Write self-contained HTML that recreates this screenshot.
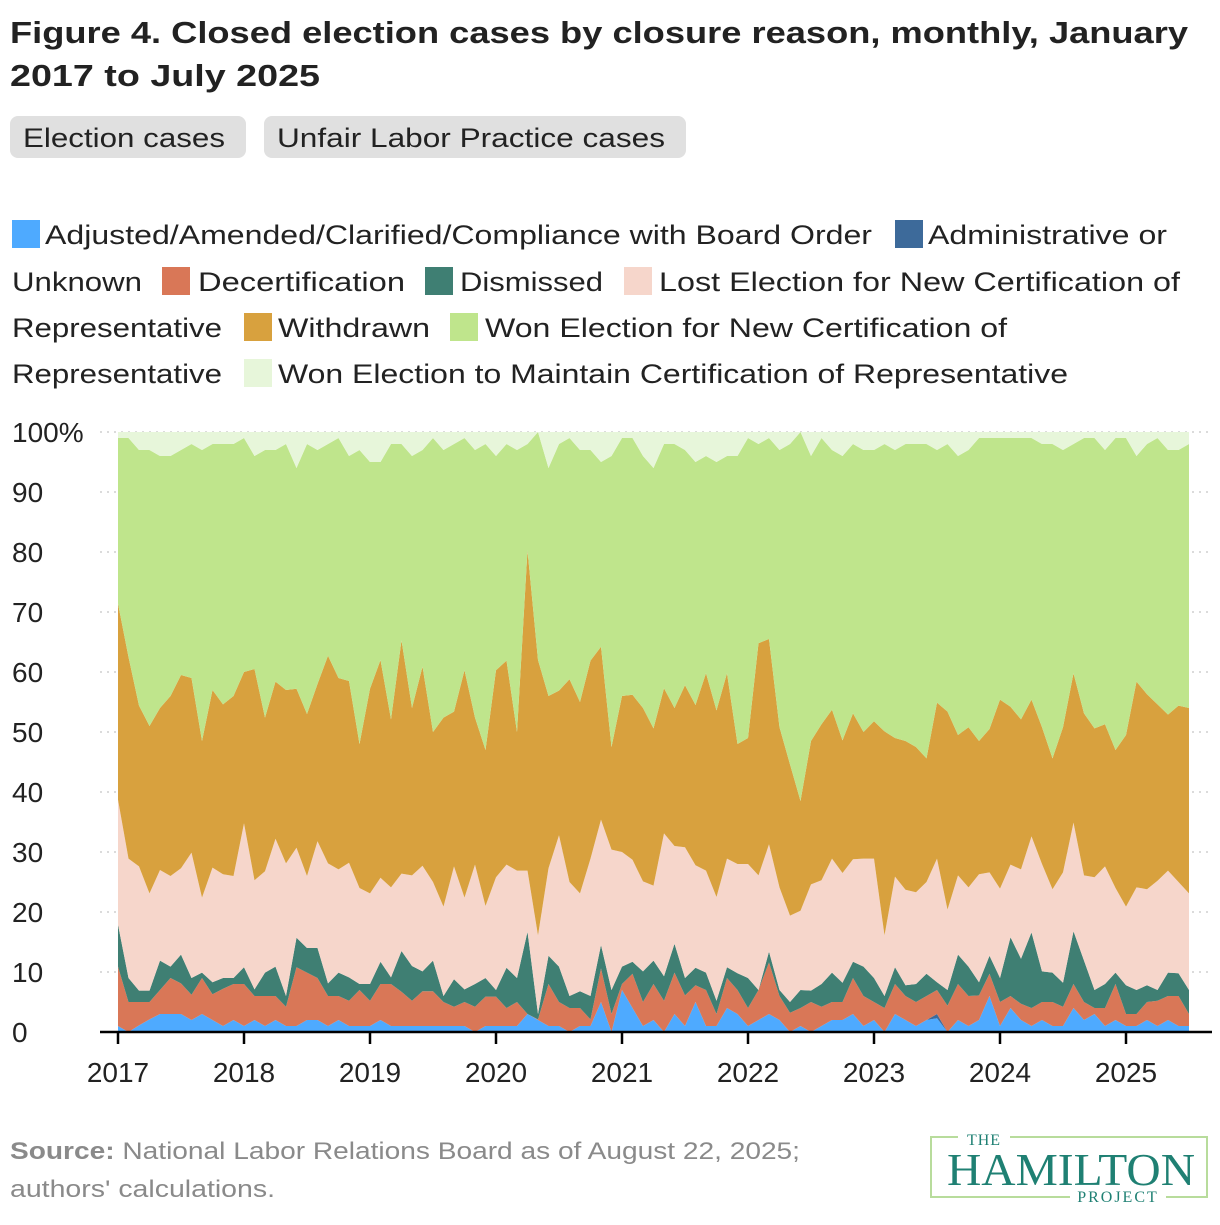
<!DOCTYPE html>
<html><head><meta charset="utf-8"><style>
html,body{margin:0;padding:0;background:#fff;}
body{width:1220px;height:1220px;overflow:hidden;font-family:"Liberation Sans",sans-serif;}
</style></head><body>
<svg id="chart" width="1220" height="1220" xmlns="http://www.w3.org/2000/svg" font-family="Liberation Sans, sans-serif">
<g font-weight="bold" font-size="31" fill="#222">
<text x="10" y="43" textLength="1178" lengthAdjust="spacingAndGlyphs">Figure 4. Closed election cases by closure reason, monthly, January</text>
<text x="10" y="86" textLength="310" lengthAdjust="spacingAndGlyphs">2017 to July 2025</text>
</g>
<g>
<rect x="10" y="116" width="236" height="42" rx="8" fill="#e0e0e0"/>
<text x="23" y="147" font-size="27" fill="#222" textLength="202" lengthAdjust="spacingAndGlyphs">Election cases</text>
</g>
<g>
<rect x="264" y="116" width="422" height="42" rx="8" fill="#e0e0e0"/>
<text x="277" y="147" font-size="27" fill="#222" textLength="388" lengthAdjust="spacingAndGlyphs">Unfair Labor Practice cases</text>
</g>
<g id="legend" font-size="27" fill="#222"></g>
<g id="grid"></g>
<g id="areas"></g>
<g id="axes"></g>
<g font-size="24" fill="#8a8a8a">
<text x="10" y="1159" textLength="790" lengthAdjust="spacingAndGlyphs"><tspan font-weight="bold">Source:</tspan> National Labor Relations Board as of August 22, 2025;</text>
<text x="10" y="1197" textLength="265" lengthAdjust="spacingAndGlyphs">authors' calculations.</text>
</g>
<g>
<rect x="931" y="1137" width="276" height="60" fill="none" stroke="#b8dc9c" stroke-width="2"/>
<rect x="958" y="1130" width="52" height="14" fill="#fff"/>
<rect x="1070" y="1188" width="96" height="16" fill="#fff"/>
<text x="984" y="1145" font-family="Liberation Serif, serif" font-size="16" fill="#1f8073" text-anchor="middle" letter-spacing="1">THE</text>
<text x="947" y="1185" font-family="Liberation Serif, serif" font-size="46" fill="#1f8073" textLength="248" lengthAdjust="spacingAndGlyphs">HAMILTON</text>
<text x="1118" y="1202" font-family="Liberation Serif, serif" font-size="16" fill="#1f8073" text-anchor="middle" letter-spacing="2">PROJECT</text>
</g>
</svg>
<script>
const years = ["2017","2018","2019","2020","2021","2022","2023","2024","2025"];
const yTicks = [0,10,20,30,40,50,60,70,80,90,100];
const adjusted = [1,0,1.1,2.1,3,3,3,2,3,2,1,2,1,2,1,2,1,1,2,2,1,2,1,1,1,2,1,1,1,1,1,1,1,1,0,1,1,1,1,3,2,1,1,0,1,1,5,0,7,4,1,2,0,3,1,5,1,1,4,3,1,2,3,2,0,1,0,1,2,2,3,1,2,0,3,2,1,2,2.3,0,2,1,2,6,1,4,2,1,2,1,1,4,2,3,1,2,1,1,2,1,2,1,1];
const administrative = [0,0,0,0,0,0,0,0,0,0,0,0,0,0,0,0,0,0,0,0,0,0,0,0,0,0,0,0,0,0,0,0,0,0,0,0,0,0,0,0,0,0,0,0,0,0,0,0,0,0,0,0,0,0,0,0,0,0,0,0,0,0,0,0,0,0,0,0,0,0,0,0,0,0,0,0,0,0,0.7,0,0,0,0,0,0,0,0,0,0,0,0,0,0,0,0,0,0,0,0,0,0,0,0];
const decertification = [9.9,5,3.9,2.9,4,6,5.1,4.2,6,4.3,6.2,6,7,4,5,4,3.2,9.8,7.9,7,5,4,4.2,6,4.2,6,7,5.7,4.2,5.8,5.8,4,3.2,4,4.2,4.9,4.9,3,4,0,0.1,7,4,4,3,1.1,5.6,3,1,5.7,4,6,5.2,6.9,5.1,2.8,6,2,5,4,3,5,8.6,4,3.2,3,5,3.2,3,3,6,5,3,4,5,4,4,4,4,4.4,6,5,4.1,3.7,4,2,2.7,3,3,4,3.2,4,3,1,3,6,2,2,3,4.2,4,5,2];
const dismissed = [7,4,1.9,1.9,4.9,1.9,4.8,2.8,0.9,2,1.8,1,2.8,1.1,3.9,4.9,1.8,4.9,4.1,5,2.1,3.9,3.9,1,2.8,3.7,1.1,6.8,5.8,3.3,5.1,1,4.6,2.1,3.8,3.1,1.1,6.7,4,13.7,0.9,4.7,5.9,2,2.8,3.9,3.9,4,2.9,2,5.1,3.9,4.1,4.8,2.9,2.9,2.9,2.2,1.8,2.8,5,0,1.8,1,1.8,3,1.9,3.8,4.9,3.2,2.7,4.9,4,2,2.8,1.8,3,3.7,1.3,2.6,4.9,4.9,2.2,3,4,9.8,7.5,12.6,5.1,4.9,4,8.8,6.9,3,4,1.9,4.8,4,2.8,1.8,3.9,3.8,4];
const lostNew = [20.8,19.9,20.7,16.2,15.1,15.1,14.4,20.9,12.5,19.1,17.3,17,24,18.2,16.9,21.3,22.1,15,12,17.8,20,17.2,19.1,16,15.1,14,15,12.9,15.1,17.6,13.1,14.9,18.8,15.3,19.9,12,18.8,17.2,17.9,10.2,13.1,14.6,21.9,19,16.3,22.9,20.9,23.4,19.1,17,15,12.5,23.8,16.3,21.8,17.1,17,17.3,18.1,18.2,19,19.1,17.9,17.1,14.4,13.2,17.7,17.3,19,18.3,17.1,18,19.9,10.1,15.1,15.9,15.3,15.3,20.6,13.4,13.2,13.2,18,13.9,14.9,12.1,14.9,16,17.9,13.9,18.4,18.1,14.2,18.8,19.6,14.1,13.1,17.1,16,18.2,17,15.2,16.1];
const withdrawn = [32.7,33.6,26.8,27.9,27,30,32.2,29.1,26.1,29.6,28.3,30,25.2,35.2,25.6,26.2,28.9,26.5,27,26.2,34.6,31.9,30.3,24,34.1,36.3,28,38.9,27.9,33.2,25,31.5,25.8,37.9,24.5,26,34.5,34,23.1,53.4,45.9,28.7,24.1,33.8,31.9,33,28.8,17.1,26,27.5,28.9,26.2,24.2,23,27,26.7,32.9,31.1,30.9,20,21,38.7,34.2,26.7,25.2,18.3,23.9,26,24.8,22.1,24.3,21.1,22.9,34,23.1,24.8,24.2,20.6,26,33,23.4,26.7,22.2,23.9,31.5,26.3,25,22.8,22.8,21.8,24.2,24.9,27,24.8,23.7,23,28.6,34.3,32.5,29.4,26,29.4,30.9];
const wonNew = [27.6,36.5,42.6,46,42,40,37.5,39,48.5,41,43.4,42,39,35.5,44.6,38.6,41,36.8,45,39,35.3,40,37.5,49,37.8,33,45.9,32.7,42,36.1,49,44.6,44.6,38.7,44.6,51,35.7,36.1,47,17.7,38,38,41.1,40.2,42,35.1,30.8,48.5,43,42.8,42,43.4,40.7,44,39.2,40.5,36.2,41.4,36.2,48,50,33.2,33.5,46.2,53.4,61.5,47.5,47.7,43.3,47.4,44.9,47,45.2,47.9,48,49.5,50.5,52.4,42.1,44.6,46.5,46.2,50.5,48.5,43.6,44.8,46.9,43.6,47.2,52.4,46.2,38.2,45.9,48.4,45.7,52,49.5,37.6,41.7,44.4,44.1,42.6,44];
const wonMaintain = [1,1,3,3,4,4,3,2,3,2,2,2,1,4,3,3,2,6,2,3,2,1,4,3,5,5,2,2,4,3,1,3,2,1,3,2,4,2,3,2,0,6,2,1,3,3,5,4,1,1,4,6,2,2,3,5,4,5,4,4,1,2,1,3,2,0,4,1,3,4,2,3,3,2,3,2,2,2,3,2,4,3,1,1,1,1,1,1,2,2,3,2,1,1,3,1,1,4,2,1,3,3,2];

const seriesList = [
 {name:"Adjusted/Amended/Clarified/Compliance with Board Order", key:"adjusted", vals:adjusted, color:"#4eaaff"},
 {name:"Administrative or Unknown", key:"administrative", vals:administrative, color:"#3d6a9a"},
 {name:"Decertification", key:"decertification", vals:decertification, color:"#d97757"},
 {name:"Dismissed", key:"dismissed", vals:dismissed, color:"#3f7f73"},
 {name:"Lost Election for New Certification of Representative", key:"lost-new", vals:lostNew, color:"#f6d6cb"},
 {name:"Withdrawn", key:"withdrawn", vals:withdrawn, color:"#d8a13e"},
 {name:"Won Election for New Certification of Representative", key:"won-new", vals:wonNew, color:"#bfe58c"},
 {name:"Won Election to Maintain Certification of Representative", key:"won-maintain", vals:wonMaintain, color:"#e7f6da"}
];

const NS="http://www.w3.org/2000/svg";
const X0=118, MONTH=10.5, Y0=1032, YPX=6;
function xScale(i){return X0+MONTH*i;}
function yScale(v){return Y0-YPX*v;}
function mk(tag,attrs,parent){const e=document.createElementNS(NS,tag);for(const k in attrs)e.setAttribute(k,attrs[k]);parent.appendChild(e);return e;}

const grid=document.getElementById('grid');
yTicks.forEach(t=>{
  const l=mk('line',{x1:100,x2:1212,y1:yScale(t),y2:yScale(t),stroke:'#cfcfcf','stroke-width':1.5,'stroke-dasharray':'2 5'},grid);
  
  
});

const areas=document.getElementById('areas');
const n=adjusted.length;
let base=new Array(n).fill(0);
seriesList.forEach(s=>{
  const top=base.map((b,i)=>b+s.vals[i]);
  let d='M'+xScale(0)+','+yScale(top[0]);
  for(let i=1;i<n;i++)d+='L'+xScale(i)+','+yScale(top[i]);
  for(let i=n-1;i>=0;i--)d+='L'+xScale(i)+','+yScale(base[i]);
  d+='Z';
  const p=mk('path',{d:d,fill:s.color},areas);
  
  
  base=top;
});

const axes=document.getElementById('axes');
mk('line',{x1:100,x2:1212,y1:Y0,y2:Y0,stroke:'#000','stroke-width':2.5},axes);
yTicks.forEach(t=>{
  const tx=mk('text',{x:12,y:yScale(t)+10,'font-size':28,fill:'#222'},axes);
  tx.textContent=t===100?'100%':String(t);
  
  
});
years.forEach((yr,k)=>{
  const x=xScale(k*12);
  mk('line',{x1:x,x2:x,y1:Y0,y2:Y0+12,stroke:'#000','stroke-width':2.5},axes);
  const tx=mk('text',{x:x,y:1082,'font-size':28,fill:'#222','text-anchor':'middle'},axes);
  tx.textContent=yr;
  
  
});

const legend=document.getElementById('legend');
const legendItems=[
 [0,[12,45,"Adjusted/Amended/Clarified/Compliance with Board Order",827,244]],
 [1,[895,928,"Administrative or",239,244]],
 [1,[null,12,"Unknown",130,291]],
 [2,[162,198,"Decertification",207,291]],
 [3,[425,460,"Dismissed",143,291]],
 [4,[624,659,"Lost Election for New Certification of",521,291]],
 [4,[null,12,"Representative",210,337]],
 [5,[244,278,"Withdrawn",152,337]],
 [6,[450,485,"Won Election for New Certification of",522,337]],
 [6,[null,12,"Representative",210,383]],
 [7,[244,278,"Won Election to Maintain Certification of Representative",790,383]]
];
legendItems.forEach(([si,[sx,tx,txt,w,y]])=>{
  if(sx!==null){
    const r=mk('rect',{x:sx,y:y-24,width:28,height:28,fill:seriesList[si].color},legend);
    
    
  }
  const t=mk('text',{x:tx,y:y,textLength:w,lengthAdjust:'spacingAndGlyphs'},legend);
  t.textContent=txt;
  
  
});
</script>
</body></html>
